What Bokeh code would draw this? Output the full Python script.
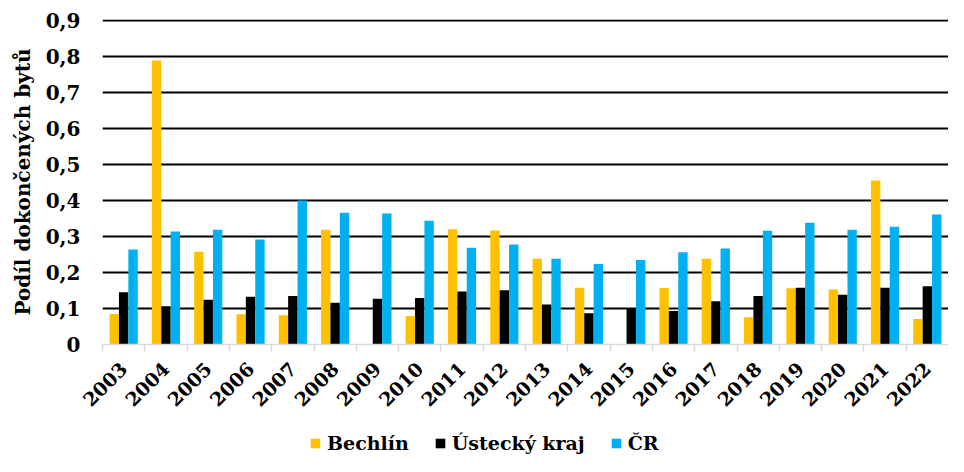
from math import pi
from bokeh.plotting import figure
from bokeh.layouts import column
from bokeh.models import (Range1d, LinearAxis, FixedTicker, Legend, LegendItem, ColumnDataSource)
from bokeh.transform import dodge
from bokeh.embed import file_html
from bokeh.resources import INLINE

years = [str(y) for y in range(2003, 2023)]
bechlin = [0.085, 0.789, 0.258, 0.084, 0.081, 0.319, 0.0, 0.079, 0.320, 0.317,
           0.238, 0.158, 0.0, 0.157, 0.238, 0.076, 0.156, 0.153, 0.456, 0.071]
ustecky = [0.145, 0.106, 0.124, 0.133, 0.135, 0.116, 0.127, 0.129, 0.147, 0.151,
           0.111, 0.087, 0.099, 0.093, 0.120, 0.135, 0.158, 0.138, 0.158, 0.162]
cr = [0.264, 0.314, 0.319, 0.292, 0.400, 0.366, 0.364, 0.344, 0.269, 0.278,
      0.238, 0.224, 0.235, 0.256, 0.267, 0.316, 0.338, 0.319, 0.327, 0.361]
series_names = ["Bechlín", "Ústecký kraj", "ČR"]
series_colors = ["#FFC000", "#000000", "#00B0F0"]
y_ticks = [0, 0.1, 0.2, 0.3, 0.4, 0.5, 0.6, 0.7, 0.8, 0.9]
y_label = "Podíl dokončených bytů"

FONT = "DejaVu Serif"

n = len(years)
centers = [i + 0.5 for i in range(n)]
src = ColumnDataSource(dict(x=centers, year=years, b=bechlin, u=ustecky, c=cr))

p = figure(width=948, height=430, x_range=Range1d(0, n),
           y_range=Range1d(0, 0.903), output_backend="svg", toolbar_location=None,
           x_axis_location=None, min_border_left=102, min_border_top=19,
           min_border_right=0, min_border_bottom=86)
p.outline_line_color = None
p.xgrid.grid_line_color = None
p.ygrid.ticker = FixedTicker(ticks=y_ticks[1:])
p.ygrid.grid_line_color = "#000000"
p.ygrid.grid_line_width = 2

bw = 0.222
for key, off, col in zip(["b", "u", "c"], [-bw, 0, bw], series_colors):
    p.vbar(x=dodge("x", off), top=key, width=bw,
           source=src, fill_color=col, line_color=None)

# y axis
ya = p.yaxis[0]
ya.ticker = FixedTicker(ticks=y_ticks)
ya.major_label_overrides = {t: ("0" if t == 0 else f"{t:.1f}".replace(".", ",")) for t in y_ticks}
ya.axis_line_color = None
ya.major_tick_line_color = None
ya.major_tick_out = 0
ya.major_tick_in = 0
ya.minor_tick_line_color = None
ya.minor_tick_out = 0
ya.major_label_standoff = 22
ya.major_label_text_font = FONT
ya.major_label_text_font_style = "bold"
ya.major_label_text_font_size = "20px"
ya.major_label_text_color = "#000000"
ya.axis_label = y_label
ya.axis_label_text_font = FONT
ya.axis_label_text_font_style = "bold"
ya.axis_label_text_font_size = "20px"
ya.axis_label_text_color = "#000000"
ya.axis_label_standoff = 8

# category axis: labels at centres, minor ticks at boundaries
xa = LinearAxis(ticker=FixedTicker(ticks=centers, minor_ticks=list(range(n + 1))))
xa.major_label_overrides = {c: y for c, y in zip(centers, years)}
xa.axis_line_color = "#D9D9D9"
xa.axis_line_width = 1.5
xa.major_tick_line_color = None
xa.major_tick_out = 7
xa.major_tick_in = 0
xa.minor_tick_line_color = "#D9D9D9"
xa.minor_tick_line_width = 1.5
xa.minor_tick_out = 7
xa.minor_tick_in = 0
xa.major_label_orientation = pi / 4
xa.major_label_standoff = 14
xa.major_label_text_font = FONT
xa.major_label_text_font_style = "bold"
xa.major_label_text_font_size = "19px"
xa.major_label_text_color = "#000000"
p.add_layout(xa, "below")

# legend strip as its own small figure (its bars lie outside its visible range)
lf = figure(width=948, height=26, x_range=Range1d(0, 1), y_range=Range1d(10, 11),
            output_backend="svg", toolbar_location=None,
            x_axis_location=None, y_axis_location=None,
            min_border_left=0, min_border_right=0, min_border_top=0, min_border_bottom=0)
lf.outline_line_color = None
lf.xgrid.grid_line_color = None
lf.ygrid.grid_line_color = None
leg_renderers = [lf.vbar(x="x", top=key, width=bw, source=src, fill_color=c, line_color=None)
                 for key, c in zip(["b", "u", "c"], series_colors)]

legend = Legend(items=[LegendItem(label=nm, renderers=[r]) for nm, r in zip(series_names, leg_renderers)],
                orientation="horizontal", location=(207, 2))
legend.border_line_color = None
legend.background_fill_alpha = 0
legend.padding = 0
legend.margin = 0
legend.spacing = 25
legend.glyph_width = 12
legend.glyph_height = 12
legend.label_standoff = 6
legend.label_text_font = FONT
legend.label_text_font_style = "bold"
legend.label_text_font_size = "19px"
legend.label_text_color = "#000000"
lf.add_layout(legend, "center")

open("out.html", "w").write(file_html(column(p, lf, spacing=0), INLINE))
